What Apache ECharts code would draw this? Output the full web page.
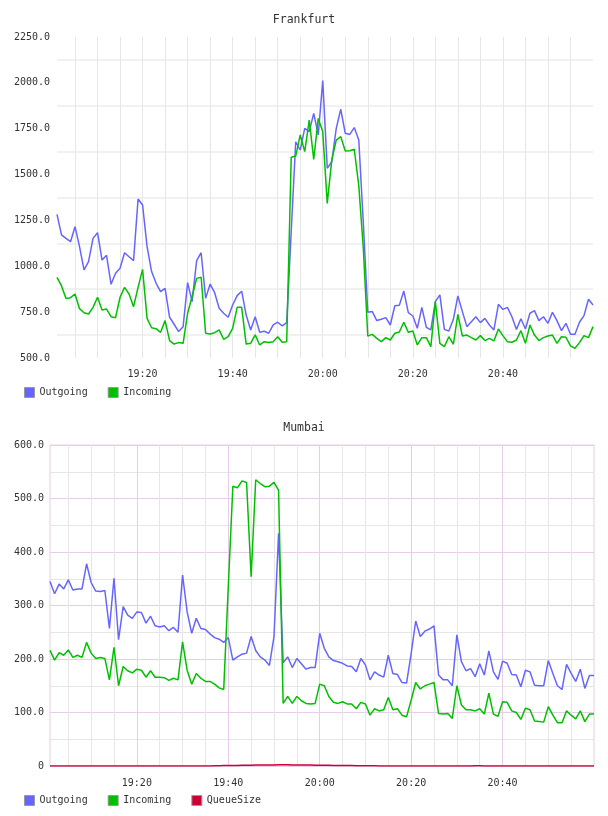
<!DOCTYPE html>
<html>
<head>
<meta charset="utf-8">
<script src="https://cdn.jsdelivr.net/npm/echarts@6/dist/echarts.min.js"></script>
<style>
  html, body { margin: 0; padding: 0; background: #fff; }
  #chart { width: 608px; height: 816px; }
</style>
</head>
<body>
<div id="chart"></div>
<script>
// one sample per minute, 19:01 .. 21:00
const startHour = 19, startMinute = 1, sampleCount = 120;
const times = [];
for (let i = 0; i < sampleCount; i++) {
  const m = startHour * 60 + startMinute + i;
  times.push(String(Math.floor(m / 60)).padStart(2, '0') + ':' + String(m % 60).padStart(2, '0'));
}

const frankfurtOutgoing = [
  1283, 1171, 1152, 1134, 1216, 1107, 980, 1025, 1152, 1183,
  1034, 1060, 902, 962, 989, 1074, 1052, 1031, 1367, 1334,
  1107, 971, 907, 862, 880, 722, 684, 644, 671, 911,
  807, 1031, 1074, 825, 903, 856, 771, 744, 722, 789,
  840, 864, 734, 653, 725, 640, 646, 635, 680, 695,
  675, 693, 1190, 1679, 1634, 1752, 1734, 1834, 1716, 2012,
  1534, 1570, 1752, 1856, 1725, 1719, 1756, 1688, 1240, 749,
  753, 704, 711, 720, 680, 785, 787, 865, 747, 729,
  662, 776, 667, 653, 807, 844, 656, 647, 711, 838,
  753, 671, 698, 725, 693, 716, 680, 653, 793, 765,
  776, 725, 656, 714, 658, 744, 758, 704, 725, 689,
  749, 704, 649, 689, 629, 629, 695, 731, 820, 789
];
const frankfurtIncoming = [
  940, 893, 825, 829, 849, 769, 747, 740, 776, 831,
  762, 767, 725, 720, 831, 885, 849, 780, 885, 983,
  716, 665, 660, 640, 704, 595, 576, 584, 580, 744,
  835, 934, 940, 635, 631, 638, 653, 602, 616, 662,
  776, 776, 576, 580, 626, 571, 589, 584, 589, 616,
  586, 589, 1594, 1601, 1716, 1625, 1797, 1583, 1806, 1734,
  1343, 1579, 1688, 1707, 1628, 1630, 1638, 1440, 1100, 619,
  629, 607, 589, 611, 598, 635, 642, 695, 640, 647,
  571, 611, 611, 562, 807, 580, 562, 616, 575, 738,
  620, 625, 611, 598, 622, 595, 607, 593, 658, 622,
  589, 586, 598, 649, 580, 680, 625, 595, 611, 620,
  625, 580, 616, 613, 566, 553, 584, 622, 611, 671
];
const mumbaiOutgoing = [
  345, 322, 340, 331, 348, 329, 331, 331, 378, 343,
  327, 326, 328, 257, 351, 236, 298, 282, 276, 288,
  287, 267, 280, 262, 260, 262, 253, 259, 250, 357,
  288, 248, 276, 257, 255, 247, 240, 237, 231, 240,
  198, 204, 209, 211, 242, 216, 204, 198, 188, 242,
  435, 193, 204, 184, 201, 191, 181, 184, 184, 248,
  220, 204, 197, 195, 192, 187, 186, 176, 201, 189,
  161, 176, 170, 166, 207, 173, 171, 156, 155, 210,
  271, 242, 252, 256, 262, 170, 161, 161, 150, 245,
  195, 178, 182, 167, 191, 170, 215, 176, 162, 196,
  192, 171, 170, 148, 179, 176, 151, 150, 150, 197,
  173, 150, 143, 190, 173, 158, 181, 145, 169, 169
];
const mumbaiIncoming = [
  216, 198, 212, 207, 217, 203, 207, 203, 231, 211,
  201, 203, 201, 161, 222, 150, 186, 178, 174, 181,
  179, 166, 178, 166, 166, 165, 160, 164, 161, 232,
  179, 153, 173, 164, 158, 158, 153, 146, 143, 335,
  523, 520, 533, 530, 354, 535, 528, 522, 523, 530,
  515, 117, 130, 117, 130, 122, 117, 116, 117, 153,
  150, 130, 119, 117, 120, 116, 116, 107, 119, 116,
  95, 107, 103, 105, 128, 105, 107, 95, 92, 123,
  156, 144, 150, 153, 156, 98, 97, 98, 89, 150,
  114, 105, 105, 103, 107, 97, 136, 97, 93, 120,
  119, 103, 100, 87, 108, 105, 84, 83, 82, 111,
  95, 81, 81, 103, 95, 88, 103, 83, 97, 97
];
const mumbaiQueueSize = [
  0, 0, 0, 0, 0, 0, 0, 0, 0, 0,
  0, 0, 0, 0, 0, 0, 0, 0, 0, 0,
  0, 0, 0, 0, 0, 0, 0, 0, 0, 0,
  0, 0, 0, 0, 0, 0, 0.5, 0.5, 1, 1,
  1, 1, 1.5, 1.5, 1.5, 2, 2, 2, 2, 2,
  2.5, 2.5, 2.5, 2, 2, 2, 2, 2, 1.5, 1.5,
  1.5, 1.5, 1, 1, 1, 1, 1, 0.5, 0.5, 0.5,
  0.5, 0.5, 0, 0, 0, 0, 0, 0, 0, 0,
  0, 0, 0, 0, 0, 0, 0, 0, 0, 0,
  0, 0, 0, 0.5, 0.5, 0, 0, 0, 0, 0,
  0, 0, 0, 0, 0, 0, 0, 0, 0, 0,
  0, 0, 0, 0, 0, 0, 0, 0, 0, 0
];

const colOut = '#6666ff', colIn = '#00c000', colQueue = '#cc0033';
const mono = 'DejaVu Sans Mono';
const gridGray = '#e6e6e6', gridPink = '#e8cde8';

function minuteOf(v) { return parseInt(v.slice(3), 10); }
const isLabelTick = (i, v) => minuteOf(v) % 20 === 0 && i < times.length - 1;
const isFiveTick = (i, v) => minuteOf(v) % 5 === 0 && i < times.length - 1;
const isMinorTick = (i, v) => minuteOf(v) % 5 === 0 && minuteOf(v) % 20 !== 0 && i < times.length - 1;

const labelStyle = { fontFamily: mono, fontSize: 10, color: '#333' };

function lineSeries(name, data, color, xi, yi, z) {
  return {
    name: name, type: 'line', data: data,
    xAxisIndex: xi, yAxisIndex: yi,
    showSymbol: false, symbol: 'none', z: z || 2,
    lineStyle: { color: color, width: 1.5 },
    itemStyle: { color: color }
  };
}

const chart = echarts.init(document.getElementById('chart'));
chart.setOption({
  animation: false,
  title: [
    { text: 'Frankfurt', left: 'center', top: 14, padding: 0,
      textStyle: { fontFamily: mono, fontSize: 11.5, fontWeight: 'normal', color: '#333' } },
    { text: 'Mumbai', left: 'center', top: 422, padding: 0,
      textStyle: { fontFamily: mono, fontSize: 11.5, fontWeight: 'normal', color: '#333' } }
  ],
  legend: [
    { data: ['Outgoing', 'Incoming'], left: 24, top: 387, padding: 0,
      icon: 'rect', itemWidth: 10, itemHeight: 10, itemGap: 20,
      itemStyle: { borderColor: '#999', borderWidth: 1 },
      textStyle: { fontFamily: mono, fontSize: 10, color: '#333' } },
    { data: ['Outgoing', 'Incoming', 'QueueSize'], left: 24, top: 795, padding: 0,
      icon: 'rect', itemWidth: 10, itemHeight: 10, itemGap: 20,
      itemStyle: { borderColor: '#999', borderWidth: 1 },
      textStyle: { fontFamily: mono, fontSize: 10, color: '#333' } }
  ],
  grid: [
    { left: 57, right: 15, top: 37, height: 321 },
    { left: 50, right: 14, top: 445, height: 321, show: true,
      borderColor: gridPink, borderWidth: 1 }
  ],
  xAxis: [
    { gridIndex: 0, type: 'category', data: times, boundaryGap: false,
      axisLine: { show: false }, axisTick: { show: false },
      axisLabel: Object.assign({ interval: isLabelTick, margin: 11 }, labelStyle),
      splitLine: { show: true, interval: isFiveTick, lineStyle: { color: gridGray } } },
    { gridIndex: 1, type: 'category', data: times, boundaryGap: false,
      axisLine: { show: false }, axisTick: { show: false },
      axisLabel: Object.assign({ interval: isLabelTick, margin: 12 }, labelStyle),
      splitLine: { show: true, interval: isLabelTick, lineStyle: { color: gridPink } } },
    { gridIndex: 1, type: 'category', data: times, boundaryGap: false,
      axisLine: { show: false }, axisTick: { show: false }, axisLabel: { show: false },
      splitLine: { show: true, interval: isMinorTick, lineStyle: { color: gridGray } } }
  ],
  yAxis: [
    { gridIndex: 0, type: 'value', min: 500, max: 2250, interval: 125,
      axisLine: { show: false }, axisTick: { show: false },
      axisLabel: Object.assign({ margin: 7,
        formatter: v => (v % 250 === 0 ? v.toFixed(1) : '') }, labelStyle),
      splitLine: { show: true, lineStyle: { color: ['rgba(0,0,0,0)', '#ececec'], width: 1.5 } } },
    { gridIndex: 1, type: 'value', min: 0, max: 600, interval: 50,
      axisLine: { show: false }, axisTick: { show: false },
      axisLabel: Object.assign({ margin: 6,
        formatter: v => (v === 0 ? '0' : (v % 100 === 0 ? v.toFixed(1) : '')) }, labelStyle),
      splitLine: { show: true, lineStyle: { color: [gridPink, gridGray] } } }
  ],
  series: [
    lineSeries('Outgoing', frankfurtOutgoing, colOut, 0, 0),
    lineSeries('Incoming', frankfurtIncoming, colIn, 0, 0),
    lineSeries('Outgoing', mumbaiOutgoing, colOut, 1, 1),
    lineSeries('Incoming', mumbaiIncoming, colIn, 1, 1),
    lineSeries('QueueSize', mumbaiQueueSize, colQueue, 1, 1, 3)
  ]
});
</script>
</body>
</html>
